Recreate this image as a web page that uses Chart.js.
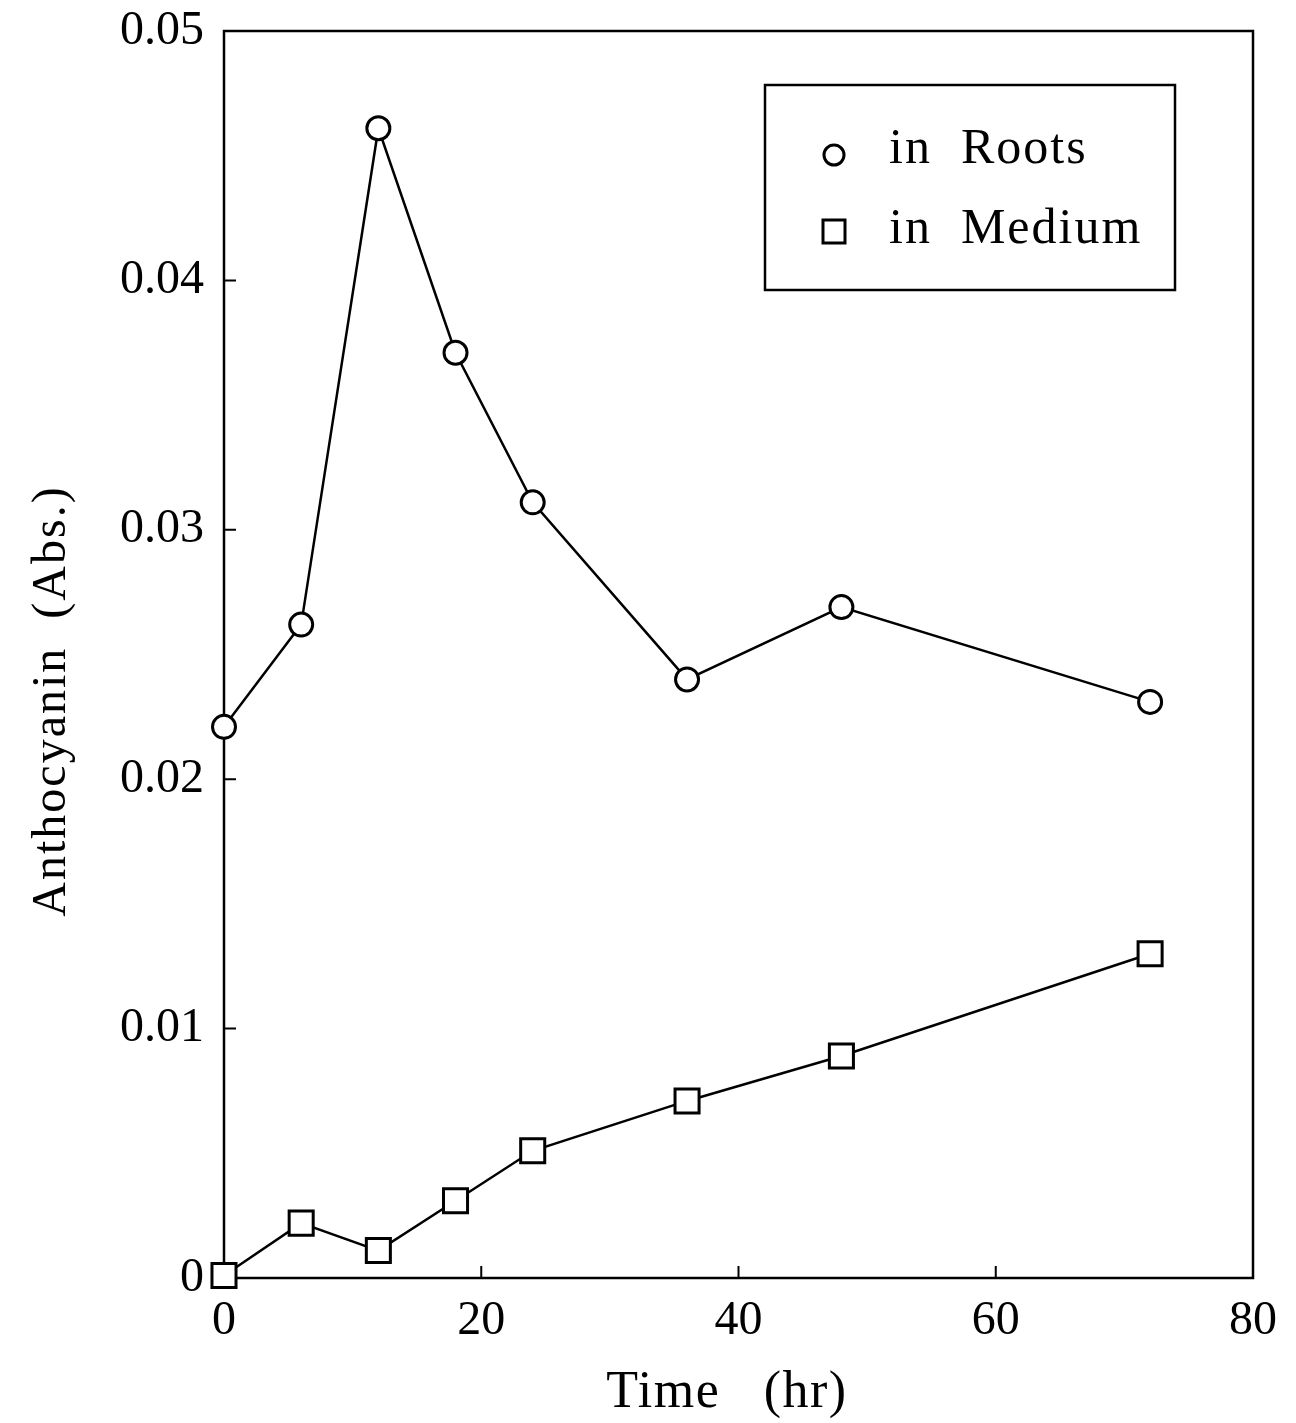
<!DOCTYPE html>
<html>
<head>
<meta charset="utf-8">
<script src="https://cdn.jsdelivr.net/npm/chart.js@4/dist/chart.umd.min.js"></script>
<style>
  html, body { margin: 0; padding: 0; background: #fff; }
  #wrap { width: 1296px; height: 1423px; }
</style>
</head>
<body>
<div id="wrap"><canvas id="c" width="1296" height="1423"></canvas></div>
<script>
// Sampling times (hr)
const times = [0, 6, 12, 18, 24, 36, 48, 72];
// Anthocyanin absorbance
const roots  = [0.0221, 0.0262, 0.0461, 0.0371, 0.0311, 0.0240, 0.0269, 0.0231];
const medium = [0.0001, 0.0022, 0.0011, 0.0031, 0.0051, 0.0071, 0.0089, 0.0130];
// Axis ticks
const xTicks = [0, 20, 40, 60, 80];
const yTicks = [0, 0.01, 0.02, 0.03, 0.04, 0.05];
const seriesNames = ['in  Roots', 'in  Medium'];
const xTitle = 'Time   (hr)';
const yTitle = 'Anthocyanin  (Abs.)';

const FONT = '"Liberation Serif", "DejaVu Serif", serif';

const toPoints = ys => times.map((t, i) => ({ x: t, y: ys[i] }));

// Frame, inward ticks and axis titles (drawn under the data)
const framePlugin = {
  id: 'frame',
  beforeDatasetsDraw(chart) {
    const { ctx, chartArea: a, scales } = chart;
    ctx.save();
    ctx.strokeStyle = '#000';
    ctx.lineWidth = 2.5;
    ctx.strokeRect(a.left, a.top, a.right - a.left, a.bottom - a.top);
    ctx.lineWidth = 2;
    ctx.beginPath();
    xTicks.forEach(v => {
      const px = scales.x.getPixelForValue(v);
      if (px > a.left + 2 && px < a.right - 2) {
        ctx.moveTo(px, a.bottom); ctx.lineTo(px, a.bottom - 12);
      }
    });
    yTicks.forEach(v => {
      const py = scales.y.getPixelForValue(v);
      if (py > a.top + 2 && py < a.bottom - 2) {
        ctx.moveTo(a.left, py); ctx.lineTo(a.left + 12, py);
      }
    });
    ctx.stroke();

    ctx.fillStyle = '#000';
    ctx.textAlign = 'center';
    ctx.textBaseline = 'middle';
    ctx.font = '52px ' + FONT;
    ctx.letterSpacing = '1.5px';
    ctx.fillText(xTitle, 727, 1393);
    ctx.translate(52, 701);
    ctx.rotate(-Math.PI / 2);
    ctx.font = '48px ' + FONT;
    ctx.letterSpacing = '2px';
    ctx.fillText(yTitle, 0, 0);
    ctx.restore();
  },
  // in-plot legend box
  afterDraw(chart) {
    const { ctx } = chart;
    ctx.save();
    const bx = 765, by = 85, bw = 410, bh = 205;
    ctx.strokeStyle = '#000';
    ctx.lineWidth = 2.5;
    ctx.fillStyle = '#fff';
    ctx.fillRect(bx, by, bw, bh);
    ctx.strokeRect(bx, by, bw, bh);
    ctx.fillStyle = '#000';
    ctx.font = '50px ' + FONT;
    ctx.letterSpacing = '2px';
    ctx.textBaseline = 'alphabetic';
    ctx.textAlign = 'left';
    const markerY = [155, 231];
    const textY = [163, 243];
    chart.data.datasets.forEach((ds, i) => {
      const cy = markerY[i], cx = 834;
      ctx.lineWidth = 3;
      ctx.beginPath();
      if (ds.pointStyle === 'circle') {
        ctx.arc(cx, cy, 10, 0, Math.PI * 2);
      } else {
        ctx.rect(cx - 11, cy - 11, 22, 23);
      }
      ctx.stroke();
      ctx.fillText(ds.label, 889, textY[i]);
    });
    ctx.restore();
  }
};

new Chart(document.getElementById('c'), {
  type: 'scatter',
  data: {
    datasets: [
      {
        label: seriesNames[0],
        data: toPoints(roots),
        showLine: true,
        clip: false,
        borderColor: '#000',
        borderWidth: 2.5,
        pointStyle: 'circle',
        pointRadius: 11.5,
        pointBorderWidth: 3,
        pointBackgroundColor: '#fff',
        pointBorderColor: '#000'
      },
      {
        label: seriesNames[1],
        data: toPoints(medium),
        showLine: true,
        clip: false,
        borderColor: '#000',
        borderWidth: 2.5,
        pointStyle: 'rect',
        pointRadius: 17,
        pointBorderWidth: 3,
        pointBackgroundColor: '#fff',
        pointBorderColor: '#000'
      }
    ]
  },
  options: {
    responsive: false,
    animation: false,
    devicePixelRatio: 1,
    layout: { padding: { top: 31, right: 43, left: 0, bottom: 0 } },
    plugins: {
      legend: { display: false },
      tooltip: { enabled: false }
    },
    scales: {
      x: {
        type: 'linear',
        min: 0, max: 80,
        afterBuildTicks: s => { s.ticks = xTicks.map(v => ({ value: v })); },
        afterFit: s => {
          s.height = 145;
          s.paddingLeft = 0; s.paddingRight = 0;
        },
        grid: { display: false, drawTicks: false },
        border: { display: false },
        ticks: {
          color: '#000',
          padding: 15,
          maxRotation: 0,
          font: { family: FONT, size: 48 }
        },
        title: { display: false }
      },
      y: {
        type: 'linear',
        min: 0, max: 0.05,
        afterBuildTicks: s => { s.ticks = yTicks.map(v => ({ value: v })); },
        afterFit: s => {
          s.width = 224;
          s.paddingTop = 0; s.paddingBottom = 0;
        },
        grid: { display: false, drawTicks: false },
        border: { display: false },
        ticks: {
          color: '#000',
          padding: 20,
          font: { family: FONT, size: 48 },
          callback: v => (v === 0 ? '0' : v.toFixed(2))
        },
        title: { display: false }
      }
    }
  },
  plugins: [framePlugin]
});
</script>
</body>
</html>
